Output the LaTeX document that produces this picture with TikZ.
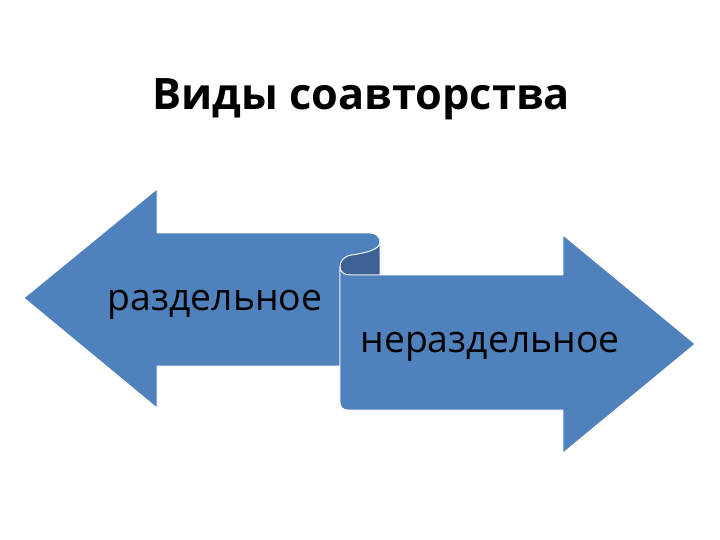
\documentclass[tikz,border=0pt]{standalone}
\usepackage{fontspec}
\setmainfont{Open Sans}
\definecolor{arrowblue}{RGB}{79,129,189}
\definecolor{rollblue}{RGB}{60,98,150}

\begin{document}
\begin{tikzpicture}[x=1pt, y=-1pt,
% Shape styles
    arrowface/.style={fill=arrowblue, draw=white, line width=0.8pt, line join=round},
    rollback/.style={fill=rollblue, draw=white, line width=0.8pt, line join=round},
% Text styles
    titletext/.style={anchor=base, font=\fontsize{43.3}{50}\selectfont\bfseries},
    bodytext/.style={anchor=base, font=\fontsize{37.3}{44}\selectfont}
]
\useasboundingbox (0,0) rectangle (720,540);

% 1. Left arrow (with the rolled top corner)
\path[arrowface] (24,298) -- (157,189) -- (157,233) -- (370,233)
    .. controls (376,233) and (380,237) .. (380,242)
    .. controls (380,250) and (365,253) .. (352,255)
    .. controls (344,256) and (340,261) .. (340,267)
    -- (340,366) -- (157,366) -- (157,408) -- cycle;

% 2. Back side of the roll
\path[rollback] (380,242)
    .. controls (380,250) and (365,253) .. (352,255)
    .. controls (344,256) and (340,261) .. (340,267)
    .. controls (340,272) and (344,275) .. (350,275)
    -- (380,275) -- cycle;

% 3. Right arrow
\path[arrowface] (340,267)
    .. controls (340,272) and (344,275) .. (350,275)
    -- (563,275) -- (563,235) -- (695,344) -- (563,453) -- (563,410)
    -- (348,410) .. controls (343,410) and (340,407) .. (340,402) -- cycle;

% Texts
\node[titletext] (title) at (361,110) {Виды соавторства};
\node[bodytext] (separate) at (215,310) {раздельное};
\node[bodytext] (joint) at (490,352) {нераздельное};

\end{tikzpicture}
\end{document}
